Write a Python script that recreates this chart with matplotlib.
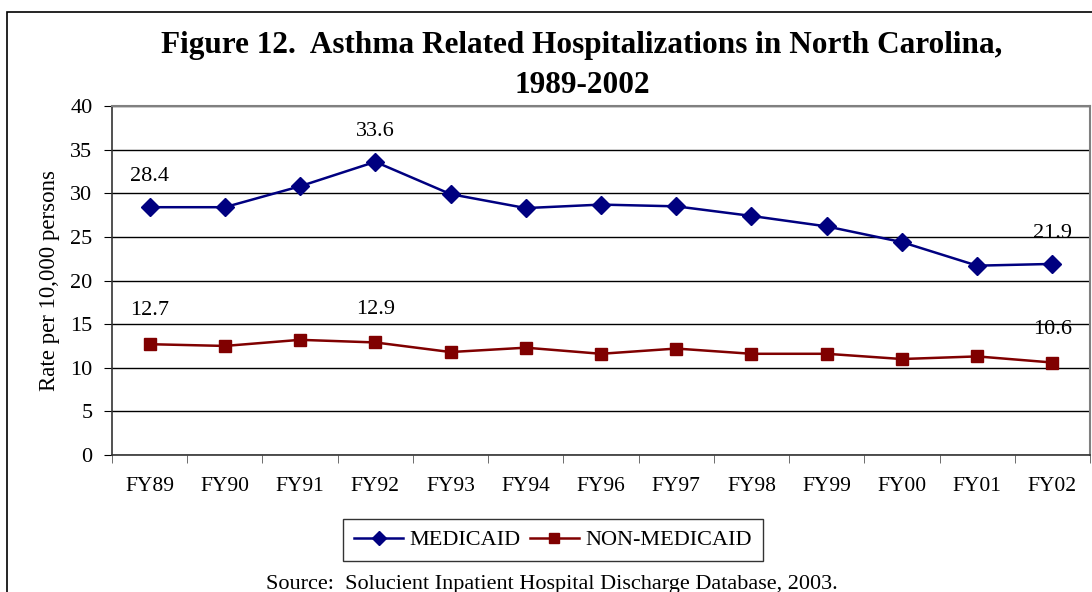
import matplotlib
matplotlib.use('Agg')
import matplotlib.pyplot as plt
from matplotlib.patches import Rectangle

plt.rcParams['font.family'] = ['Liberation Serif', 'DejaVu Serif']

years = ['FY89', 'FY90', 'FY91', 'FY92', 'FY93', 'FY94', 'FY96',
         'FY97', 'FY98', 'FY99', 'FY00', 'FY01', 'FY02']
medicaid = [28.4, 28.4, 30.8, 33.6, 29.9, 28.3, 28.7, 28.5, 27.4, 26.2, 24.4, 21.7, 21.9]
non_medicaid = [12.7, 12.5, 13.2, 12.9, 11.8, 12.3, 11.6, 12.2, 11.6, 11.6, 11.0, 11.3, 10.6]

# which points get a value label
labelled = [0, 3, 12]

fig = plt.figure(figsize=(10.92, 5.92), dpi=100)
ax = fig.add_axes([112 / 1092, 1 - 455 / 592, 978 / 1092, 349 / 592])

# outer chart border
fig.patches.append(Rectangle((7 / 1092, -0.1), 1.2, 1.1 - 12 / 592,
                             transform=fig.transFigure, fill=False,
                             edgecolor='black', linewidth=1.2))

x = list(range(len(years)))
ax.plot(x, medicaid, color='#000080', marker='D', markersize=9, linewidth=1.8,
        label='MEDICAID', clip_on=False)
ax.plot(x, non_medicaid, color='#800000', marker='s', markersize=9, linewidth=1.8,
        label='NON-MEDICAID', clip_on=False)

for i in labelled:
    ax.annotate('{:.1f}'.format(medicaid[i]), (x[i], medicaid[i]), xytext=(0, 22),
                textcoords='offset points', ha='center', va='center', fontsize=16)
    ax.annotate('{:.1f}'.format(non_medicaid[i]), (x[i], non_medicaid[i]), xytext=(0, 24),
                textcoords='offset points', ha='center', va='center', fontsize=16)

ax.set_xlim(-0.5, len(years) - 0.5)
ax.set_ylim(0, 40)
ax.set_yticks(range(0, 41, 5))
ax.yaxis.grid(True, color='black', linewidth=1)
ax.set_axisbelow(True)

ax.set_xticks(x)
ax.set_xticklabels(years, fontsize=15.5)
ax.set_xticks([i - 0.5 for i in range(len(years) + 1)], minor=True)
ax.tick_params(axis='x', which='major', length=0, pad=16)
ax.tick_params(axis='x', which='minor', length=6, direction='out', color='#555555')
ax.tick_params(axis='y', labelsize=16, length=6, direction='out', pad=8)

for side in ['top', 'right']:
    ax.spines[side].set_color('#808080')
    ax.spines[side].set_linewidth(1.5)
for side in ['left', 'bottom']:
    ax.spines[side].set_color('#333333')
    ax.spines[side].set_linewidth(1.2)

ax.set_ylabel('Rate per 10,000 persons', fontsize=16.5)
ax.yaxis.set_label_coords(-(112 - 60) / 978, 0.5)

fig.text(582 / 1092, 1 - 45 / 592, 'Figure 12.  Asthma Related Hospitalizations in North Carolina,',
         ha='center', va='center', fontsize=22.5, fontweight='bold')
fig.text(582 / 1092, 1 - 85 / 592, '1989-2002',
         ha='center', va='center', fontsize=22.5, fontweight='bold')

leg = fig.legend(loc='center', bbox_to_anchor=(553 / 1092, 1 - 540 / 592), ncol=2,
                 fontsize=16, frameon=True, fancybox=False, edgecolor='black',
                 handlelength=2.2, handletextpad=0.3, columnspacing=0.4,
                 borderpad=0.5, markerscale=0.8)
leg.get_frame().set_linewidth(1)

fig.text(552 / 1092, 1 - 584 / 592,
         'Source:  Solucient Inpatient Hospital Discharge Database, 2003.',
         ha='center', va='center', fontsize=16)

fig.savefig('out.png', dpi=100)
